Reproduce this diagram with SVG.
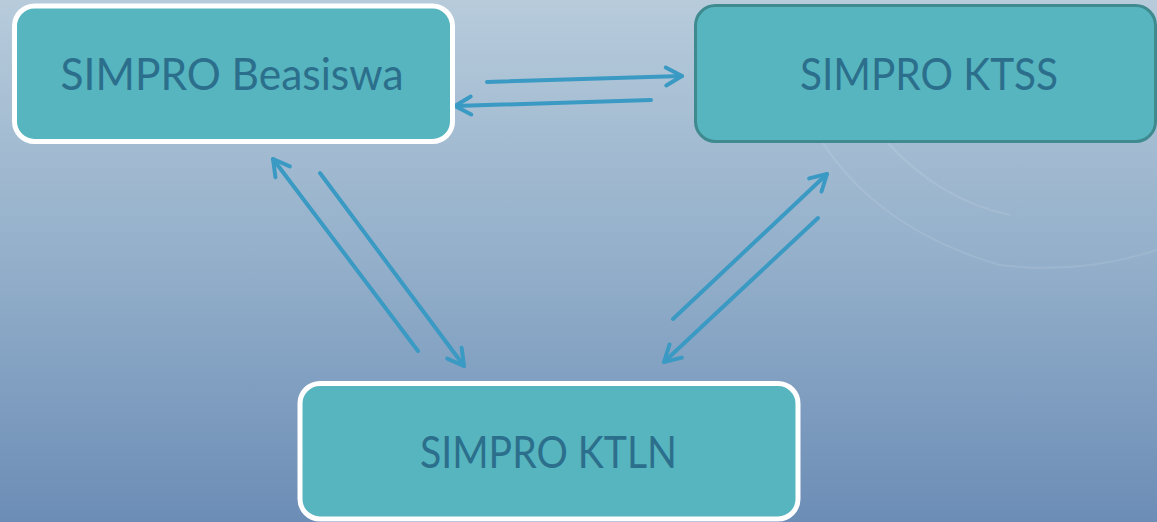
<svg xmlns="http://www.w3.org/2000/svg" width="1157" height="522" viewBox="0 0 1157 522">
<defs>
<linearGradient id="bg" x1="0" y1="0" x2="0" y2="1">
<stop offset="0" stop-color="#B7CBDB"/>
<stop offset="0.5" stop-color="#93AFCA"/>
<stop offset="1" stop-color="#6C8DB6"/>
</linearGradient>
<marker id="ah" markerUnits="userSpaceOnUse" viewBox="-20 -12 24 24" markerWidth="24" markerHeight="24" refX="0" refY="0" orient="auto">
<path d="M-16,-9 L0,0 L-16,9" fill="none" stroke="#3A9AC3" stroke-width="4" stroke-linecap="round" stroke-linejoin="round"/>
</marker>
<style>
.box{fill:#57B5BF;}
.wb{stroke:#FFFFFF;stroke-width:5;}
.db{stroke:#3E8A8F;stroke-width:3;}
.lbl{font-family:Lato,"Liberation Sans",Arial,sans-serif;font-size:44px;fill:#2C6F8C;text-anchor:middle;}
.con{fill:none;stroke:#3A9AC3;stroke-width:4;stroke-linecap:round;marker-end:url(#ah);}
.deco{fill:none;stroke:#FFFFFF;stroke-opacity:0.1;stroke-width:2;}
</style>
</defs>
<rect x="0" y="0" width="1157" height="522" fill="url(#bg)"/>
<g id="decoration">
<path class="deco" d="M823,143 Q880,230 1000,265 Q1080,275 1157,250"/>
<path class="deco" d="M888,143 Q940,200 1010,215"/>
</g>
<g id="connectors">
<line class="con" x1="487" y1="82" x2="682" y2="76"/>
<line class="con" x1="651" y1="100" x2="455" y2="106"/>
<line class="con" x1="418" y1="351" x2="273" y2="159"/>
<line class="con" x1="320" y1="173" x2="464" y2="366"/>
<line class="con" x1="673" y1="319" x2="827" y2="174"/>
<line class="con" x1="818" y1="218" x2="664" y2="362"/>
</g>
<g id="node-beasiswa">
<rect class="box wb" x="14.5" y="6" width="438" height="135.5" rx="20"/>
<text class="lbl" x="232" y="90" textLength="343" lengthAdjust="spacingAndGlyphs">SIMPRO Beasiswa</text>
</g>
<g id="node-ktss">
<rect class="box db" x="695.5" y="5.5" width="460" height="136" rx="20"/>
<text class="lbl" x="929" y="90" textLength="258" lengthAdjust="spacingAndGlyphs">SIMPRO KTSS</text>
</g>
<g id="node-ktln">
<rect class="box wb" x="300" y="383.5" width="498" height="135.5" rx="20"/>
<text class="lbl" x="548.5" y="468" textLength="257" lengthAdjust="spacingAndGlyphs">SIMPRO KTLN</text>
</g>
</svg>
